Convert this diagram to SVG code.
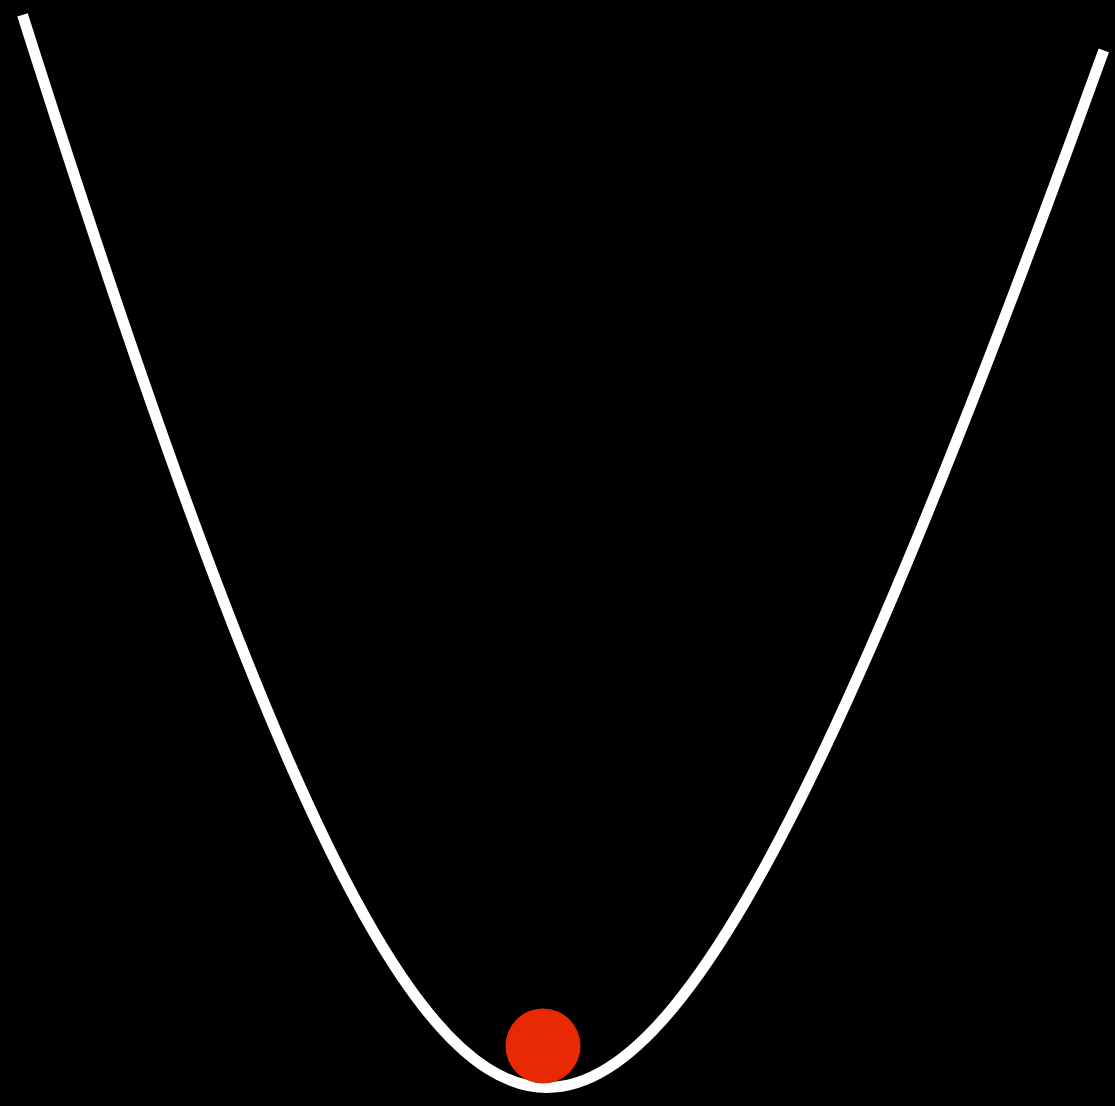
<svg xmlns="http://www.w3.org/2000/svg" width="1115" height="1106" viewBox="0 0 1115 1106">
<style>
.curve{fill:none;stroke:#ffffff;stroke-width:11;stroke-linecap:butt;stroke-linejoin:round}
.ball{fill:#e82a04}
</style>
<rect x="0" y="0" width="1115" height="1106" fill="#000000"/>
<g id="valley">
<path class="curve" d="M22.52,14.95 Q71.01,167.52 113.67,293.74 Q159.04,427.99 198.61,534.81 Q244.24,658.01 284.09,750.11 Q321.85,837.41 355.93,900.38 Q391.1,965.38 423.69,1007 Q456.2,1048.52 487.4,1068.44 Q517.25,1087.5 547,1087.5 Q576.75,1087.5 607.4,1068.44 Q639.44,1048.52 673.69,1007 Q708.02,965.38 745.93,900.38 Q782.65,837.41 824.09,750.11 Q867.8,658.01 918.61,534.81 Q962.66,427.99 1013.67,293.74 Q1055.78,182.92 1103.78,50.26"/>
</g>
<g id="ball">
<circle class="ball" cx="543" cy="1046" r="37.5"/>
</g>
</svg>
